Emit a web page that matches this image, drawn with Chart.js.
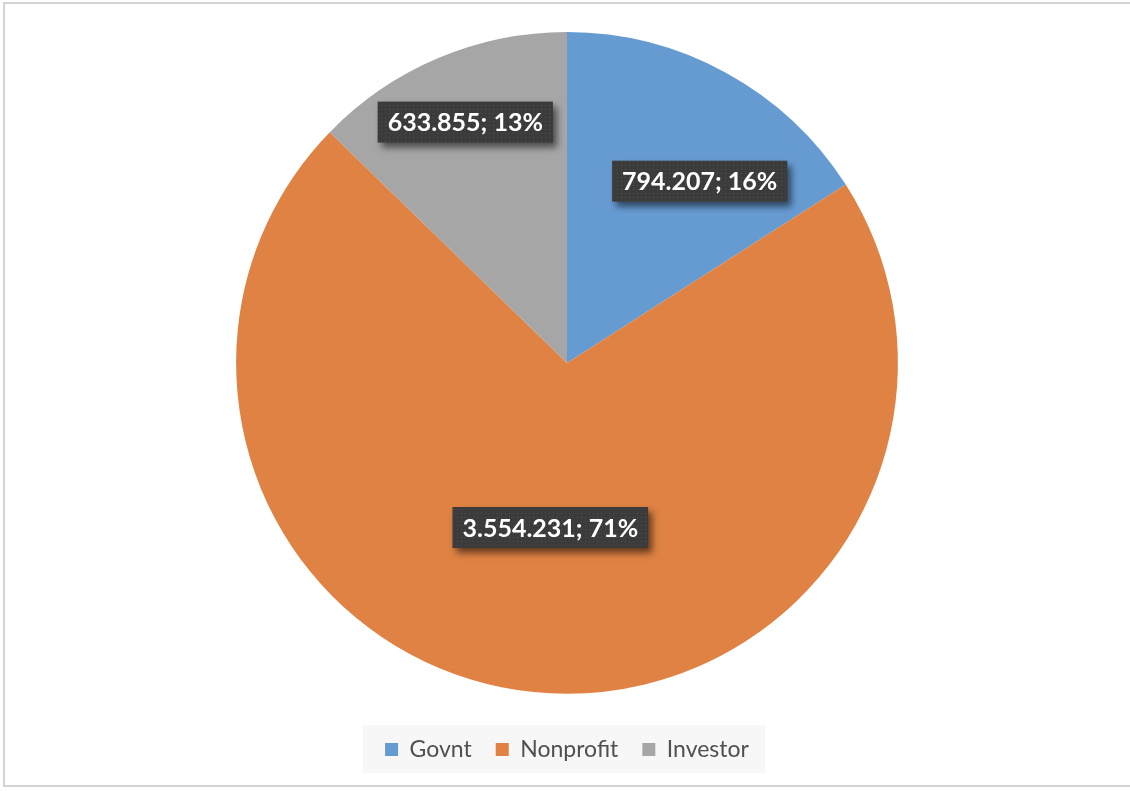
<!DOCTYPE html>
<html>
<head>
<meta charset="utf-8">
<title>Funding by sector</title>
<script src="https://cdn.jsdelivr.net/npm/chart.js@4/dist/chart.umd.min.js"></script>
<style>
  html, body { margin: 0; padding: 0; background: #fff; overflow: hidden; }
  #frame {
    position: absolute; left: 3px; top: 2px; width: 1140px; height: 785px;
    border: 2px solid #d4d4d4; box-sizing: border-box;
  }
  #chart { position: absolute; left: 0; top: 0; }
</style>
</head>
<body>
<div id="frame"></div>
<canvas id="chart" width="1130" height="791"></canvas>
<script>
const sectors = ['Govnt', 'Nonprofit', 'Investor'];
const amounts = [794207, 3554231, 633855];
const sliceColors = ['#669BD2', '#DF8243', '#A6A6A6'];

document.addEventListener('DOMContentLoaded', () => {
    const canvas = document.getElementById('chart');

    // small dotted tile for the label boxes
    const tile = document.createElement('canvas');
    tile.width = 4;
    tile.height = 4;
    const tctx = tile.getContext('2d');
    tctx.fillStyle = '#3b3b3b';
    tctx.fillRect(0, 0, 4, 4);
    tctx.fillStyle = '#4e4e4e';
    tctx.fillRect(1, 1, 1, 1);

    const total = amounts.reduce((s, v) => s + v, 0);
    const fmt = (v) => v.toLocaleString('de-DE');

    // where each value box sits: fraction of radius + small angle nudge (radians)
    const labelSpots = [
        { r: 0.68, nudge: 0.13 },
        { r: 0.50, nudge: 0 },
        { r: 0.79, nudge: 0 }
    ];

    const valueBoxes = {
        id: 'valueBoxes',
        afterDatasetsDraw(chart) {
            const ctx = chart.ctx;
            const meta = chart.getDatasetMeta(0);
            ctx.save();
            ctx.font = 'bold 25px Lato';
            ctx.textAlign = 'center';
            ctx.textBaseline = 'middle';
            meta.data.forEach((arc, i) => {
                const p = arc.getProps(['x', 'y', 'startAngle', 'endAngle', 'outerRadius'], true);
                const mid = (p.startAngle + p.endAngle) / 2 + labelSpots[i].nudge;
                const cx = p.x + Math.cos(mid) * p.outerRadius * labelSpots[i].r;
                const cy = p.y + Math.sin(mid) * p.outerRadius * labelSpots[i].r;
                const val = amounts[i];
                const text = fmt(val) + '; ' + Math.round(val / total * 100) + '%';
                const w = ctx.measureText(text).width + 20;
                const h = 41;
                ctx.save();
                ctx.shadowColor = 'rgba(0,0,0,0.55)';
                ctx.shadowBlur = 7;
                ctx.shadowOffsetX = 4;
                ctx.shadowOffsetY = 5;
                ctx.fillStyle = ctx.createPattern(tile, 'repeat');
                ctx.fillRect(cx - w / 2, cy - h / 2, w, h);
                ctx.restore();
                ctx.fillStyle = '#ffffff';
                ctx.fillText(text, cx, cy + 1);
            });
            ctx.restore();
        }
    };

    // light panel behind the legend items
    const legendPanel = {
        id: 'legendPanel',
        beforeDraw(chart) {
            const boxes = chart.legend.legendHitBoxes;
            if (!boxes || !boxes.length) return;
            const left = Math.min(...boxes.map(b => b.left)) - 22;
            const right = Math.max(...boxes.map(b => b.left + b.width)) + 16;
            const top = boxes[0].top - 13;
            const ctx = chart.ctx;
            ctx.save();
            ctx.fillStyle = '#f7f7f7';
            ctx.fillRect(left, top, right - left, 48);
            ctx.restore();
        }
    };

    new Chart(canvas, {
        type: 'pie',
        data: {
            labels: sectors,
            datasets: [{
                data: amounts,
                backgroundColor: sliceColors,
                borderWidth: 0
            }]
        },
        options: {
            responsive: false,
            animation: false,
            layout: { padding: { top: 32, left: 4, right: 0, bottom: 20 } },
            plugins: {
                tooltip: { enabled: false },
                legend: {
                    position: 'bottom',
                    title: { display: true, text: '', font: { size: 1 }, padding: { top: 19, bottom: 0 } },
                    labels: {
                        boxWidth: 13,
                        boxHeight: 13,
                        padding: 24,
                        color: '#505050',
                        font: { family: 'Lato', size: 23 }
                    }
                }
            }
        },
        plugins: [valueBoxes, legendPanel]
    });
});
</script>
</body>
</html>
